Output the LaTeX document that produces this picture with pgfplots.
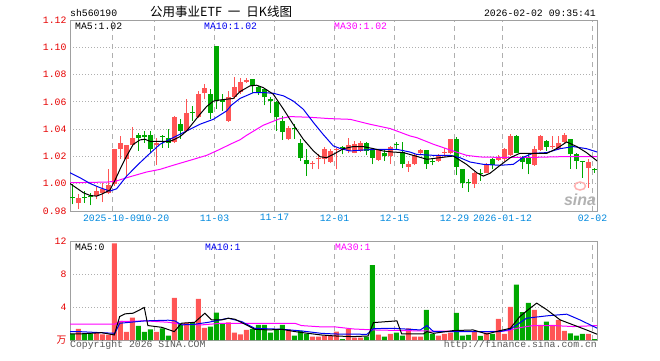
\documentclass[border=0pt]{standalone}
\usepackage{pgfplots}
\pgfplotsset{compat=1.18}
\usepackage{pgfplotstable}
\usepackage{fontspec}
\setmainfont{Liberation Mono}
\newfontfamily\cjk{Noto Sans CJK SC}
\newfontfamily\sinafont{Liberation Sans}
\definecolor{cred}{RGB}{255,85,85}
\definecolor{cgreen}{RGB}{0,168,0}
\definecolor{cblue}{RGB}{0,0,240}
\definecolor{cmag}{RGB}{255,0,255}
\definecolor{clab}{RGB}{0,136,221}
\definecolor{cylab}{RGB}{230,0,0}
\definecolor{cframe}{RGB}{160,160,160}
\definecolor{cgrid}{RGB}{175,175,175}
\newcommand\lbl{\fontsize{9.8}{10}\selectfont}

\pgfplotstableread{
x o h l c
1 0.9856 0.9922 0.9812 0.9892
4 0.9909 0.9983 0.9885 0.9946
5 0.9934 1.0002 0.9865 0.9963
6 0.9929 1.0105 0.9922 0.9988
7 0.9995 1.0257 0.9983 1.0252
8 1.0252 1.0350 1.0184 1.0301
9 1.0179 1.0286 1.0056 1.0281
10 1.0281 1.0416 1.0277 1.0333
14 1.0281 1.0338 1.0135 1.0301
17 1.0306 1.0497 1.0296 1.0492
19 1.0387 1.0619 1.0379 1.0517
21 1.0490 1.0681 1.0485 1.0661
22 1.0663 1.0730 1.0619 1.0705
26 1.0460 1.0681 1.0453 1.0632
27 1.0632 1.0783 1.0624 1.0712
28 1.0673 1.0778 1.0656 1.0747
29 1.0742 1.0778 1.0737 1.0759
36 1.0326 1.0424 1.0318 1.0406
40 1.0144 1.0166 1.0105 1.0154
41 1.0179 1.0215 1.0105 1.0191
42 1.0184 1.0269 1.0142 1.0252
43 1.0162 1.0252 1.0154 1.0242
44 1.0247 1.0264 1.0105 1.0257
46 1.0240 1.0333 1.0228 1.0281
47 1.0228 1.0313 1.0223 1.0294
48 1.0240 1.0313 1.0232 1.0301
51 1.0174 1.0252 1.0166 1.0247
53 1.0203 1.0277 1.0142 1.0272
56 1.0125 1.0166 1.0086 1.0142
57 1.0142 1.0215 1.0135 1.0208
58 1.0223 1.0252 1.0208 1.0245
61 1.0166 1.0215 1.0159 1.0208
62 1.0225 1.0264 1.0198 1.0232
63 1.0223 1.0330 1.0215 1.0326
67 0.9995 1.0086 0.9971 1.0081
69 1.0081 1.0154 1.0076 1.0147
71 1.0174 1.0208 1.0166 1.0191
72 1.0184 1.0264 1.0166 1.0257
73 1.0208 1.0362 1.0203 1.0350
77 1.0135 1.0277 1.0130 1.0252
78 1.0247 1.0355 1.0240 1.0350
80 1.0272 1.0350 1.0252 1.0279
81 1.0257 1.0350 1.0247 1.0301
82 1.0306 1.0375 1.0296 1.0355
86 1.0118 1.0179 0.9971 1.0162
}\redK

\pgfplotstableread{
x o h l c
0 0.9902 0.9995 0.9848 0.9895
2 0.9902 0.9946 0.9860 0.9895
3 0.9907 0.9934 0.9841 0.9900
11 1.0355 1.0375 1.0240 1.0338
12 1.0355 1.0387 1.0301 1.0345
13 1.0355 1.0387 1.0223 1.0257
15 1.0350 1.0355 1.0264 1.0343
16 1.0333 1.0399 1.0264 1.0301
18 1.0436 1.0472 1.0326 1.0387
20 1.0529 1.0566 1.0460 1.0521
23 1.0656 1.0693 1.0477 1.0521
24 1.1006 1.1006 1.0551 1.0607
25 1.0612 1.0656 1.0534 1.0602
30 1.0766 1.0771 1.0668 1.0717
31 1.0712 1.0717 1.0649 1.0668
32 1.0693 1.0698 1.0575 1.0632
33 1.0619 1.0632 1.0521 1.0607
34 1.0600 1.0607 1.0387 1.0492
35 1.0460 1.0497 1.0321 1.0379
37 1.0409 1.0436 1.0326 1.0401
38 1.0296 1.0326 1.0166 1.0188
39 1.0171 1.0252 1.0056 1.0142
45 1.0269 1.0277 1.0215 1.0259
49 1.0301 1.0306 1.0208 1.0240
50 1.0252 1.0264 1.0142 1.0191
52 1.0228 1.0252 1.0166 1.0203
54 1.0294 1.0306 1.0252 1.0284
55 1.0232 1.0308 1.0113 1.0142
59 1.0245 1.0247 1.0110 1.0142
60 1.0164 1.0179 1.0135 1.0157
64 1.0326 1.0345 1.0061 1.0122
65 1.0105 1.0110 0.9971 1.0002
66 1.0010 1.0032 0.9939 1.0002
68 1.0078 1.0105 1.0020 1.0071
70 1.0184 1.0191 1.0105 1.0135
74 1.0350 1.0355 1.0223 1.0228
75 1.0191 1.0203 1.0105 1.0159
76 1.0191 1.0223 1.0069 1.0142
79 1.0313 1.0318 1.0240 1.0272
83 1.0326 1.0330 1.0110 1.0215
84 1.0215 1.0223 1.0105 1.0166
85 1.0164 1.0166 1.0044 1.0159
87 1.0108 1.0118 1.0081 1.0103
}\greenK

\pgfplotstableread{
x v
1 1.34
4 0.89
5 0.69
6 0.61
7 11.7
8 2.32
9 0.98
10 2.72
14 0.98
17 5.12
19 2.11
21 5.00
22 1.46
26 2.15
27 0.89
28 0.69
29 1.22
36 1.30
40 0.41
41 0.41
42 0.53
43 0.49
44 1.02
46 1.34
47 0.28
48 0.28
51 0.65
53 0.73
56 1.42
57 0.41
58 0.41
61 0.53
62 0.73
63 0.89
67 1.02
69 0.89
71 2.56
72 0.73
73 4.02
77 3.66
78 1.83
80 1.83
81 2.44
82 1.10
86 0.73
}\redV

\pgfplotstableread{
x v
0 0.73
2 0.73
3 0.81
11 1.71
12 0.98
13 1.30
15 1.42
16 0.53
18 2.03
20 2.11
23 1.63
24 3.33
25 1.91
30 1.34
31 1.83
32 1.83
33 0.89
34 1.30
35 1.83
37 0.53
38 1.10
39 0.77
45 0.12
49 0.41
50 9.07
52 0.41
54 0.89
55 0.53
59 3.66
60 0.73
64 3.29
65 0.53
66 0.61
68 0.49
70 0.73
74 6.71
75 3.37
76 4.51
79 2.24
83 0.81
84 0.53
85 0.73
87 0.12
}\greenV

\pgfplotsset{
  base/.style={
    scale only axis, width=527pt,
    xmin=-0.38, xmax=87.45,
    axis line style={cframe, line width=1pt},
    xtick={6.7,13.7,23.7,33.7,43.7,53.7,63.7,71.7,86.7},
    xmajorgrids, major x grid style={cgrid, line width=1pt, dash pattern=on 5pt off 4pt},
    ymajorgrids, major y grid style={cgrid, line width=1pt, dash pattern=on 1pt off 2pt},
    major tick length=0pt,
    tick label style={font=\lbl},
    yticklabel style={text=cylab},
    xticklabel style={text=clab},
  },
  wick/.style={draw=none, mark=none, forget plot,
    error bars/.cd, y dir=plus, y explicit, error mark=none,
    error bar style={draw=#1, line width=1pt, solid}},
  body/.style={draw=none, mark=none, forget plot,
    error bars/.cd, y dir=plus, y explicit, error mark=none,
    error bar style={draw=#1, line width=5pt, solid}},
}

\begin{document}
\begin{tikzpicture}[x=1pt,y=1pt]
\useasboundingbox (0,0) rectangle (660,360);

% price panel
\begin{axis}[base, at={(70pt,149pt)}, anchor=south west, height=191pt,
  ymin=0.98, ymax=1.12,
  ytick={0.98,1.00,1.02,1.04,1.06,1.08,1.10,1.12},
  yticklabels={0.98,1.00,1.02,1.04,1.06,1.08,1.10,1.12},
  xticklabels={2025-10-09,10-20,11-03,11-17,12-01,12-15,12-29,2026-01-12,02-02},
]
\addplot[wick=cred] table[x=x, y=l, y error plus expr=\thisrow{h}-\thisrow{l}] {\redK};
\addplot[body=cred] table[x=x, y expr={min(\thisrow{o},\thisrow{c})}, y error plus expr={abs(\thisrow{c}-\thisrow{o})}] {\redK};
\addplot[wick=cgreen] table[x=x, y=l, y error plus expr=\thisrow{h}-\thisrow{l}] {\greenK};
\addplot[body=cgreen] table[x=x, y expr={min(\thisrow{o},\thisrow{c})}, y error plus expr={abs(\thisrow{c}-\thisrow{o})}] {\greenK};
% MA30
\addplot[cmag, line width=1pt, mark=none] coordinates {
(-0.4,1.0007) (5.73,1.0012) (7.2,1.0018) (9.06,1.0044) (12.4,1.0086) (14.6,1.0105) (16.8,1.0135)
(20.2,1.0179) (22.4,1.0208) (24.6,1.0252) (26.3,1.0289) (27.95,1.0322) (29.06,1.0355) (31.8,1.0428)
(34.6,1.0477) (36.3,1.0492) (39.6,1.0487) (43.0,1.0477) (46.3,1.0472) (49.6,1.0436) (53.0,1.0404)
(56.3,1.0350) (57.4,1.0338) (60.2,1.0289) (63.0,1.0247) (65.7,1.0208) (68.0,1.0196) (71.3,1.0193)
(76.8,1.0193) (81.3,1.0198) (87.5,1.0198)};
% MA10
\addplot[cblue, line width=1pt, mark=none] coordinates {
(-0.4,1.0081) (1.28,1.0044) (2.95,1.0002) (4.62,0.9971) (6.28,0.9946) (7.39,0.9963) (9.06,1.0056)
(11.28,1.0154) (12.95,1.0223) (14.62,1.0289) (16.84,1.0338) (19.06,1.0387) (21.28,1.0436)
(23.5,1.0472) (25.73,1.0534) (26.5,1.0575) (27.95,1.0625) (30.2,1.0668) (31.8,1.0668) (33.5,1.0663)
(35.2,1.0644) (36.8,1.0607) (38.5,1.0546) (40.2,1.0448) (41.8,1.0362) (43.5,1.0277) (44.6,1.0259)
(46.3,1.0240) (48.5,1.0247) (50.7,1.0252) (54.1,1.0252) (56.3,1.0232) (57.4,1.0215) (60.2,1.0208)
(63.0,1.0208) (64.6,1.0191) (66.3,1.0159) (68.5,1.0142) (71.3,1.0135) (73.5,1.0142) (75.2,1.0195)
(76.8,1.0223) (79.1,1.0228) (81.3,1.0257) (83.5,1.0272) (85.7,1.0257) (87.5,1.0232)};
% MA5
\addplot[black, line width=1pt, mark=none] coordinates {
(-0.4,1.0002) (1.84,0.9934) (2.95,0.9914) (4.06,0.9909) (5.17,0.9929) (6.28,0.9954) (7.1,1.0024)
(7.95,1.0105) (9.06,1.0203) (10.17,1.0289) (11.28,1.0321) (12.1,1.0326) (12.95,1.0311) (14.6,1.0311)
(16.28,1.0311) (17.1,1.0326) (17.95,1.0345) (19.06,1.0387) (20.17,1.0448) (21.28,1.0509)
(22.39,1.0566) (23.5,1.0605) (24.6,1.0614) (26.84,1.0625) (27.95,1.0675) (29.6,1.0717) (30.7,1.0722)
(31.8,1.0705) (33.5,1.0656) (35.2,1.0546) (36.8,1.0436) (38.5,1.0326) (40.2,1.0240) (41.3,1.0198)
(42.4,1.0191) (43.5,1.0215) (45.2,1.0257) (46.8,1.0272) (48.5,1.0272) (50.2,1.0257) (51.8,1.0240)
(53.5,1.0232) (55.2,1.0228) (56.8,1.0208) (59.1,1.0179) (61.3,1.0191) (63.5,1.0203) (65.7,1.0142)
(67.4,1.0081) (68.5,1.0056) (69.6,1.0076) (71.3,1.0135) (73.0,1.0191) (74.6,1.0223) (76.8,1.0223)
(79.1,1.0223) (80.7,1.0257) (82.4,1.0306) (84.1,1.0272) (85.7,1.0228) (87.5,1.0166)};
\end{axis}

% volume panel
\begin{axis}[base, at={(70pt,20pt)}, anchor=south west, height=99pt,
  ymin=0, ymax=12, ytick={0,4,8,12}, yticklabels={{\cjk 万},4,8,12},
  xticklabels={},
]
\addplot[ybar, bar width=5pt, bar shift=0pt, fill=cred, draw=none, forget plot] table[x=x,y=v] {\redV};
\addplot[ybar, bar width=5pt, bar shift=0pt, fill=cgreen, draw=none, forget plot] table[x=x,y=v] {\greenV};
\addplot[cmag, line width=1pt, mark=none] coordinates {
(-0.4,1.91) (7.1,1.91) (7.9,2.24) (12.1,2.32) (16.0,2.15) (18.2,1.91) (21.5,1.83) (24.9,2.03)
(29.3,2.03) (32.7,2.03) (37.1,2.03) (38.2,1.75) (41.5,1.59) (43.8,1.59) (46.8,1.34) (50.2,1.22)
(58.0,1.10) (69.1,1.02) (72.4,1.10) (74.6,1.50) (76.8,1.75) (80.2,1.75) (83.5,1.63) (87.5,1.75)};
\addplot[cblue, line width=1pt, mark=none] coordinates {
(-0.4,1.02) (1.0,1.02) (7.1,0.81) (7.9,2.03) (12.1,2.32) (16.0,2.40) (17.1,2.32) (18.2,1.83)
(20.4,1.91) (22.7,2.15) (26.0,2.64) (28.2,2.24) (30.4,1.42) (34.9,1.30) (38.2,1.10) (41.5,0.81)
(43.8,0.73) (49.1,0.69) (50.2,1.38) (53.5,1.42) (58.0,1.22) (59.1,1.75) (60.2,1.02) (71.3,1.02)
(73.0,1.30) (75.7,2.64) (79.1,2.93) (82.4,3.13) (84.6,2.44) (87.5,1.42)};
\addplot[black, line width=1pt, mark=none] coordinates {
(-0.4,0.73) (1.0,0.73) (4.9,0.89) (7.0,0.61) (7.9,2.85) (8.8,3.17) (10.15,3.25) (12.0,3.94)
(12.6,1.75) (14.9,1.54) (17.0,1.02) (18.2,2.03) (20.4,2.15) (22.1,3.25) (23.2,2.44) (24.9,2.44)
(26.0,2.64) (27.1,2.52) (28.8,1.91) (30.4,1.30) (32.7,1.22) (34.9,1.30) (37.1,1.02) (39.3,0.81)
(41.5,0.61) (43.8,0.49) (46.8,0.41) (49.3,0.49) (50.2,2.11) (54.1,2.32) (54.9,0.73) (58.5,0.73)
(59.1,1.02) (60.2,0.81) (63.5,1.14) (66.8,1.22) (69.1,0.73) (71.3,1.14) (73.0,1.42) (74.6,2.85)
(76.3,3.86) (77.4,4.47) (79.1,3.66) (81.3,2.44) (83.5,1.83) (85.7,1.22) (87.5,0.69)};
\end{axis}

% header
\node[anchor=base west, inner sep=0] at (70,343.5) {\lbl sh560190};
\node[anchor=base west, inner sep=0] at (150,343.5) {\cjk\fontsize{12.5}{13}\selectfont 公用事业ETF\hspace{6pt}一\hspace{6pt}日K线图};
\node[anchor=base east, inner sep=0] at (596,343.5) {\lbl 2026-02-02 09:35:41};
% legends
\node[anchor=base west, inner sep=0] at (75,331) {\lbl MA5:1.02};
\node[anchor=base west, inner sep=0, text=cblue] at (204,331) {\lbl MA10:1.02};
\node[anchor=base west, inner sep=0, text=cmag] at (334,331) {\lbl MA30:1.02};
\node[anchor=base west, inner sep=0] at (75,110) {\lbl MA5:0};
\node[anchor=base west, inner sep=0, text=cblue] at (205,110) {\lbl MA10:1};
\node[anchor=base west, inner sep=0, text=cmag] at (335,110) {\lbl MA30:1};
% watermark
\draw[red!30, line width=1.5pt] (580,174) ellipse (5.5 and 4);
\node[anchor=base, inner sep=0, text=black!30] at (580,155) {\sinafont\bfseries\itshape\fontsize{16}{16}\selectfont sina};
% footer
\node[anchor=base west, inner sep=0, text=black!65] at (70,13) {\lbl Copyright 2026 SINA.COM};
\node[anchor=base east, inner sep=0, text=black!65] at (597,13) {\lbl http://finance.sina.com.cn};
\end{tikzpicture}
\end{document}
